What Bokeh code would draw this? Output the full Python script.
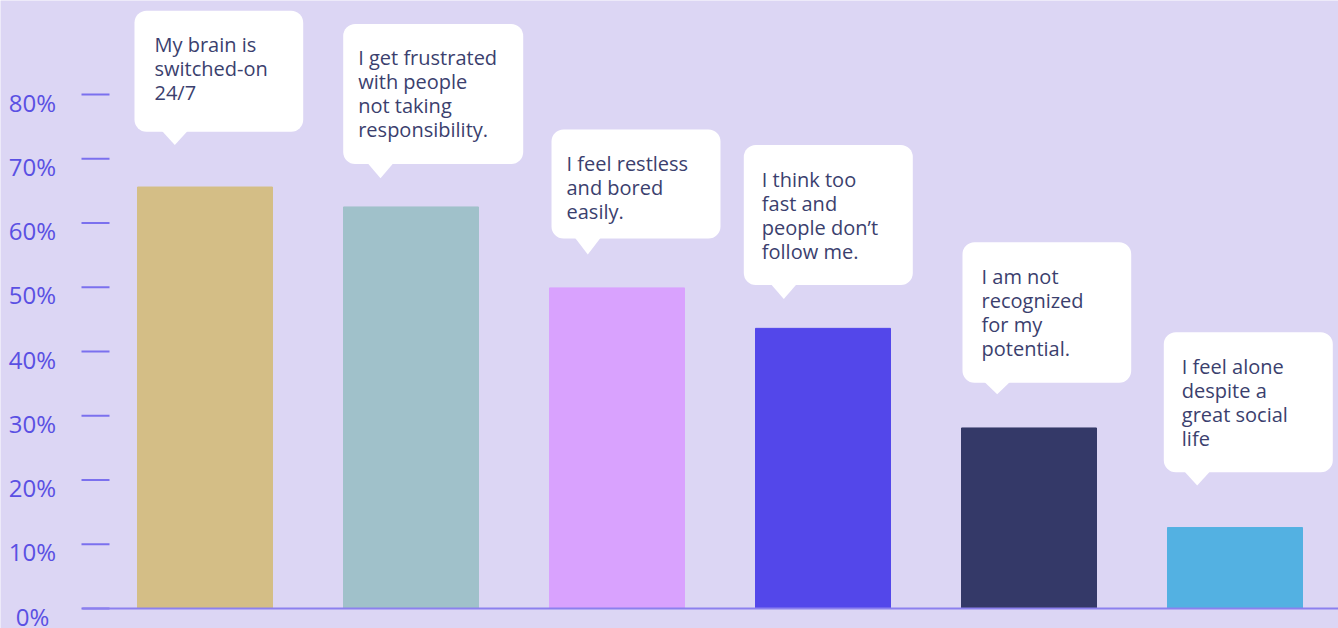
from bokeh.plotting import figure
from bokeh.models import Range1d
from bokeh.core.properties import value
from bokeh.embed import file_html
from bokeh.resources import INLINE

# ---- data ----
statements = [
    "My brain is\nswitched-on\n24/7",
    "I get frustrated\nwith people\nnot taking\nresponsibility.",
    "I feel restless\nand bored\neasily.",
    "I think too\nfast and\npeople don\u2019t\nfollow me.",
    "I am not\nrecognized\nfor my\npotential.",
    "I feel alone\ndespite a\ngreat social\nlife",
]
shares = [65.6, 62.5, 49.9, 43.6, 28.1, 12.6]
tick_values = [0, 10, 20, 30, 40, 50, 60, 70, 80]
tick_labels = ["0%", "10%", "20%", "30%", "40%", "50%", "60%", "70%", "80%"]

# ---- styles ----
bar_colors = ["#D4BE86", "#A0C1CA", "#D9A2FE", "#5347EA", "#343968", "#53B1E2"]
BG = "#DCD6F4"
LABEL_COLOR = "#5A50E3"
TEXT_COLOR = "#3B3F6E"
TICK_COLOR = "#7B70EE"
BASE_COLOR = "#8C80EE"

W, H = 1338, 628
PX_PER_UNIT_X = 206.0          # bar spacing in pixels
PX_PER_PCT = 6.425             # pixels per percent
BASE_PX = 20                   # baseline distance from bottom edge
X0 = 1 - 204.5 / PX_PER_UNIT_X
Y0 = -BASE_PX / PX_PER_PCT
BAR_W = 135 / PX_PER_UNIT_X
sx = 1 / PX_PER_UNIT_X
sy = 1 / PX_PER_PCT

xs = list(range(1, len(shares) + 1))

p = figure(width=W, height=H, output_backend="svg", toolbar_location=None,
           x_range=Range1d(X0, X0 + W * sx),
           y_range=Range1d(Y0, Y0 + H * sy),
           min_border=0, x_axis_location=None, y_axis_location=None)
p.background_fill_color = BG
p.border_fill_color = BG
p.outline_line_color = None
p.grid.visible = False

# value scale: tick marks and labels at the tick values
tick_x0 = X0 + 81 * sx
tick_x1 = X0 + 109 * sx
p.segment(x0=[tick_x0] * len(tick_values), x1=[tick_x1] * len(tick_values),
          y0=tick_values, y1=tick_values, line_color=TICK_COLOR, line_width=2)
p.text(x=[X0 + 32 * sx] * len(tick_values), y=tick_values, text=tick_labels,
       text_font=value("Open Sans"), text_font_size="24px", text_color=LABEL_COLOR,
       text_align="center", text_baseline="alphabetic", y_offset=7.5)

p.vbar(x=xs, top=shares, width=BAR_W, bottom=0, color=bar_colors)
# baseline
p.segment(x0=[X0 + 82 * sx], x1=[X0 + W * sx], y0=[0], y1=[0],
          line_color=BASE_COLOR, line_width=2)

# ---- callouts (layout in pixels, converted through the scales) ----
box_dx = [-3, -0.3, 2, -11.7, 1, -3.7]
box_w = [168.7, 180, 169, 169, 168.7, 169]
box_h = [121, 140, 109, 140, 140.4, 140]
tip_dx = [40.3, 37.3, 36.3, 40, 34.7, 33.4]
tip_drop = [13.3, 14.3, 16, 14, 11.6, 13.4]
tip_gap = [42, 28.7, 33.3, 29.3, 33.7, 42]
text_dx = [20, 15, 15, 18, 19, 18]

L, R, B, T = [], [], [], []
txs, tys = [], []
tx, ty, tt = [], [], []
for i, (x, v) in enumerate(zip(xs, shares)):
    left = x - BAR_W / 2 + box_dx[i] * sx
    tip_y = v + tip_gap[i] * sy
    bottom = tip_y + tip_drop[i] * sy
    top = bottom + box_h[i] * sy
    L.append(left); R.append(left + box_w[i] * sx); B.append(bottom); T.append(top)
    tipx = left + tip_dx[i] * sx
    txs.append([tipx - 13 * sx, tipx + 13 * sx, tipx])
    tys.append([bottom + 1 * sy, bottom + 1 * sy, tip_y])
    for k, line in enumerate(statements[i].split("\n")):
        tx.append(left + text_dx[i] * sx)
        ty.append(top - (34 + 24 * k) * sy)
        tt.append(line)

p.patches(xs=txs, ys=tys, fill_color="white", line_color=None)
p.quad(left=L, right=R, bottom=B, top=T, fill_color="white", line_color=None,
       border_radius=12)
p.text(x=tx, y=ty, text=tt, text_font=value("Open Sans"), text_font_size="20px",
       text_color=TEXT_COLOR, text_align="left", text_baseline="alphabetic")

open("out.html", "w").write(file_html(p, INLINE))
